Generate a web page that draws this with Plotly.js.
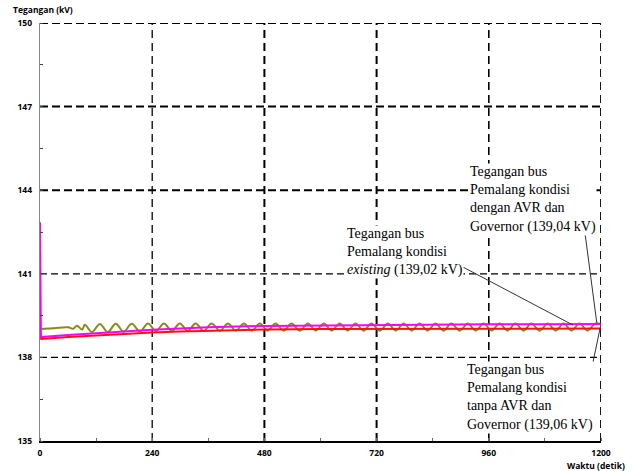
<!DOCTYPE html>
<html>
<head>
<meta charset="utf-8">
<script src="https://cdn.plot.ly/plotly-3.0.1.min.js"></script>
<style>html,body{margin:0;padding:0;background:#fff;}#chart{width:634px;height:471px;}</style>
</head>
<body>
<div id="chart"></div>
<script>
// Olive series: kondisi existing (oscillating)
const oliveT = [0, 30, 60, 71, 79, 90, 96, 111, 128, 145, 162, 179, 196, 214, 231, 248, 265, 282, 299, 316, 333, 350, 367, 385, 402, 419, 436, 453, 470, 487, 504, 521, 538, 556, 573, 590, 607, 624, 641, 658, 675, 692, 709, 727, 744, 761, 778, 795, 812, 829, 846, 863, 880, 898, 915, 932, 949, 966, 983, 1000, 1017, 1034, 1051, 1069, 1086, 1103, 1120, 1137, 1154, 1171, 1188, 1200];
const oliveV = [139.02, 139.05, 139.08, 139.03, 139.14, 139.00, 139.17, 138.91, 139.20, 138.91, 139.21, 138.92, 139.21, 138.93, 139.22, 138.94, 139.22, 138.95, 139.22, 138.95, 139.22, 138.95, 139.22, 138.96, 139.22, 138.96, 139.22, 138.96, 139.22, 138.96, 139.22, 138.96, 139.22, 138.96, 139.22, 138.96, 139.22, 138.96, 139.22, 138.96, 139.22, 138.96, 139.22, 138.96, 139.22, 138.96, 139.22, 138.96, 139.22, 138.96, 139.22, 138.96, 139.22, 138.96, 139.22, 138.96, 139.22, 138.96, 139.22, 138.96, 139.22, 138.96, 139.22, 138.96, 139.22, 138.96, 139.22, 138.96, 139.22, 138.96, 139.22, 139.20];
// Red series: tanpa AVR dan Governor
const redT = [0, 3, 60, 120, 180, 240, 300, 360, 480, 600, 720, 960, 1200];
const redV = [138.70, 138.66, 138.73, 138.79, 138.85, 138.89, 138.93, 138.96, 139.00, 139.02, 139.03, 139.03, 139.04];
// Magenta series: dengan AVR dan Governor
const magT = [0, 2, 60, 120, 180, 240, 300, 360, 480, 600, 720, 840, 960, 1080, 1200];
const magV = [142.85, 138.73, 138.80, 138.87, 138.93, 138.99, 139.04, 139.08, 139.13, 139.15, 139.17, 139.18, 139.19, 139.19, 139.20];

const xTicks = [0, 240, 480, 720, 960, 1200];
const yTicks = [135, 138, 141, 144, 147, 150];
const labels = [
  "Tegangan bus<br>Pemalang kondisi<br><i>existing</i> (139,02 kV)",
  "Tegangan bus<br>Pemalang kondisi<br>dengan AVR dan<br>Governor (139,04 kV)",
  "Tegangan bus<br>Pemalang kondisi<br>tanpa AVR dan<br>Governor (139,06 kV)"
];

const traces = [
  {x: oliveT, y: oliveV, type: 'scatter', mode: 'lines', line: {color: '#8a8a1c', width: 2, shape: 'spline', smoothing: 1}, hoverinfo: 'skip'},
  {x: redT, y: redV, type: 'scatter', mode: 'lines', line: {color: '#ff1010', width: 2}, hoverinfo: 'skip'},
  {x: magT, y: magV, type: 'scatter', mode: 'lines', line: {color: '#ff00ff', width: 2}, hoverinfo: 'skip'}
];

const shapes = [];
const hW = {150: 2, 147: 2, 144: 2, 141: 1.2, 138: 1.2};
yTicks.filter(v => v > 135).forEach(v => {
  shapes.push({type: 'line', xref: 'x', yref: 'y', x0: 0, x1: 1200, y0: v, y1: v, layer: 'below',
    line: {color: '#000', width: hW[v], dash: hW[v] > 1.5 ? '8px,4px' : '7px,4px'}});
});
const vW = {240: 1.3, 480: 2, 720: 2, 960: 1.6, 1200: 1.8};
xTicks.filter(v => v > 0).forEach(v => {
  shapes.push({type: 'line', xref: 'x', yref: 'y', x0: v, x1: v, y0: 135, y1: 150, layer: 'below',
    line: {color: '#000', width: vW[v], dash: '8px,5px'}});
});
// pointer lines
const ptr = [[905, 141.24, 1140, 139.16], [1166, 142.43, 1191, 139.24], [1183, 137.84, 1200, 139.20]];
ptr.forEach(p => shapes.push({type: 'line', xref: 'x', yref: 'y', x0: p[0], y0: p[1], x1: p[2], y1: p[3],
  line: {color: '#333', width: 1}}));

const serif = {family: 'Liberation Serif, Times New Roman, serif', size: 14, color: '#000'};
const sans = {family: 'Open Sans, sans-serif', size: 8.5, color: '#000'};
const annotations = [
  {text: labels[0], xref: 'paper', yref: 'paper', x: 0.5455, y: 0.452, xanchor: 'left', yanchor: 'middle', align: 'left', showarrow: false, font: serif, bgcolor: '#fff', borderpad: 0},
  {text: labels[1], xref: 'paper', yref: 'paper', x: 0.7647, y: 0.578, xanchor: 'left', yanchor: 'middle', align: 'left', showarrow: false, font: serif, bgcolor: '#fff', borderpad: 0},
  {text: labels[2], xref: 'paper', yref: 'paper', x: 0.7594, y: 0.105, xanchor: 'left', yanchor: 'middle', align: 'left', showarrow: false, font: serif, bgcolor: '#fff', borderpad: 0},
  {text: '<b>Tegangan (kV)</b>', xref: 'paper', yref: 'paper', x: -0.05, y: 1.033, xanchor: 'left', yanchor: 'middle', showarrow: false, font: sans, borderpad: 0},
  {text: '<b>Waktu (detik)</b>', xref: 'paper', yref: 'paper', x: 1.045, y: -0.058, xanchor: 'right', yanchor: 'middle', showarrow: false, font: sans, borderpad: 0}
];

const tickFont = {family: 'Open Sans, sans-serif', size: 8.5, color: '#000', weight: 'bold'};
const layout = {
  width: 634, height: 471,
  margin: {l: 40, r: 33, t: 23, b: 30},
  paper_bgcolor: '#fff', plot_bgcolor: '#fff',
  showlegend: false,
  xaxis: {range: [0, 1200], tickvals: xTicks, ticktext: xTicks.map(String), showgrid: false, zeroline: false,
    showline: true, linecolor: '#000', linewidth: 1.5, ticks: '', tickfont: tickFont, ticklabelstandoff: 3,
    minor: {dtick: 120, ticks: 'inside', ticklen: 3, tickcolor: '#666', showgrid: false}},
  yaxis: {range: [135, 150], tickvals: yTicks, ticktext: yTicks.map(String), showgrid: false, zeroline: false,
    showline: true, linecolor: '#888', linewidth: 1.2, ticks: '', tickfont: tickFont, ticklabelstandoff: 5,
    minor: {dtick: 1.5, tick0: 135, ticks: 'inside', ticklen: 3, tickcolor: '#444', showgrid: false}},
  shapes: shapes,
  annotations: annotations
};
Plotly.newPlot('chart', traces, layout, {displayModeBar: false, staticPlot: true});
</script>
</body>
</html>
